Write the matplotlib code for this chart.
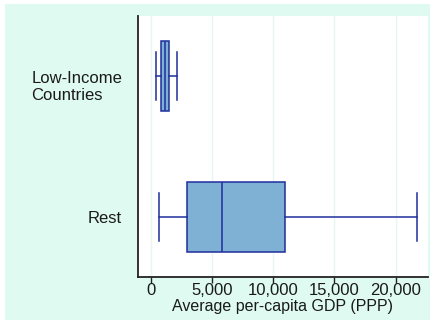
import matplotlib.pyplot as plt
from matplotlib.patches import Rectangle
from matplotlib.transforms import ScaledTranslation

plt.rcParams['font.family'] = ['Liberation Sans', 'DejaVu Sans']

groups = ['Low-Income\nCountries', 'Rest']
whislo = [410, 650]
q1 = [820, 3000]
med = [1170, 5800]
q3 = [1490, 11000]
whishi = [2170, 21760]
xticks = [0, 5000, 10000, 15000, 20000]

BG = '#dffaf1'
FILL = '#7eb1d4'
EDGE = '#1f2f9c'
FS = 12

fig = plt.figure(figsize=(4.33, 3.21), dpi=100)
fig.patch.set_facecolor('white')
fig.add_artist(Rectangle((5 / 433, 1 / 321), 425 / 433, 316 / 321,
                         transform=fig.transFigure, facecolor=BG,
                         edgecolor='none', zorder=-10))

ax = fig.add_axes([138 / 433, 1 - 277 / 321, 290 / 433, 261 / 321])
ax.set_facecolor('white')

stats = []
for i in range(len(groups)):
    stats.append(dict(whislo=whislo[i], q1=q1[i], med=med[i], q3=q3[i],
                      whishi=whishi[i], fliers=[]))
pos = [1, 0]
ax.bxp(stats, positions=pos, vert=False, widths=0.5, patch_artist=True,
       showfliers=False, capwidths=0.34,
       boxprops=dict(facecolor=FILL, edgecolor=EDGE, linewidth=1.1),
       medianprops=dict(color=EDGE, linewidth=1.1),
       whiskerprops=dict(color=EDGE, linewidth=1.1),
       capprops=dict(color=EDGE, linewidth=1.1))

ax.set_xlim(-1037, 22640)
ax.set_ylim(-0.4255, 1.4255)
ax.set_xticks(xticks)
ax.set_xticklabels([f'{v:,}' for v in xticks], fontsize=FS, color='#1a1a1a')
ax.set_yticks(pos)
ax.set_yticklabels(groups, fontsize=FS, linespacing=1.1, color='#1a1a1a')
ax.tick_params(axis='y', length=0, pad=11.5)
ax.tick_params(axis='x', length=4, width=1, pad=0, color='#222222')
ax.grid(axis='x', color='#e6f7f2', linewidth=1)
ax.set_axisbelow(True)

for lbl in ax.get_yticklabels():
    lbl.set_multialignment('left')
# first line of the two-line label sits on its tick
first = ax.get_yticklabels()[0]
first.set_transform(first.get_transform() +
                    ScaledTranslation(0, -0.09, fig.dpi_scale_trans))

ax.set_xlabel('Average per-capita GDP (PPP)', fontsize=11.5, labelpad=1,
              color='#1a1a1a')

for side in ['top', 'right']:
    ax.spines[side].set_visible(False)
for side in ['left', 'bottom']:
    ax.spines[side].set_color('#222222')
    ax.spines[side].set_linewidth(1.3)

fig.savefig('out.png', dpi=100, facecolor=fig.get_facecolor())
